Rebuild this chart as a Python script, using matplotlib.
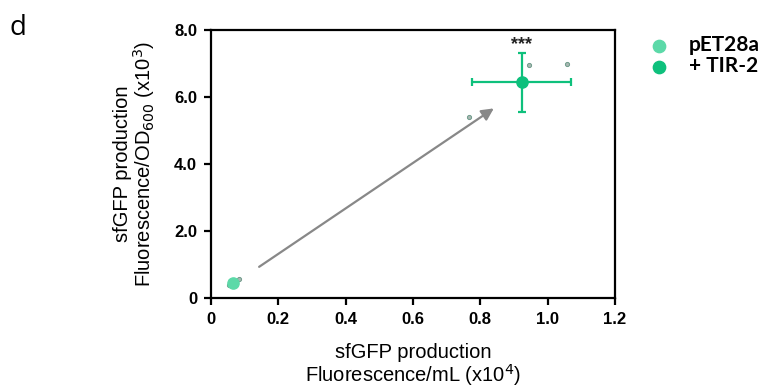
import matplotlib.pyplot as plt

# group means and SD (x: Fluorescence/mL x10^4, y: Fluorescence/OD600 x10^3)
groups = ['pET28a', '+ TIR-2']
colors = ['#5cd9a8', '#0ec07c']
mean_x = [0.064, 0.923]
mean_y = [0.44, 6.44]
sd_x = [0.008, 0.147]
sd_y = [0.06, 0.88]

# individual replicates
rep_x = [[0.055, 0.062, 0.084], [0.767, 0.946, 1.057]]
rep_y = [[0.40, 0.45, 0.57], [5.41, 6.95, 6.98]]

xticks = [0, 0.2, 0.4, 0.6, 0.8, 1.0, 1.2]
xticklabels = ['0', '0.2', '0.4', '0.6', '0.8', '1.0', '1.2']
yticks = [0, 2, 4, 6, 8]
yticklabels = ['0', '2.0', '4.0', '6.0', '8.0']

fig = plt.figure(figsize=(7.68, 3.87), dpi=100)
ax = fig.add_axes([0.2747, 0.2300, 0.5261, 0.6925])

# arrow from control to TIR-2
ax.annotate('', xy=(0.84, 5.66), xytext=(0.143, 0.93),
            arrowprops=dict(arrowstyle='-|>', color='#888888', lw=1.6,
                            mutation_scale=18, shrinkA=0, shrinkB=0))

for i in range(len(groups)):
    ax.errorbar(mean_x[i], mean_y[i], xerr=sd_x[i], yerr=sd_y[i], fmt='none',
                ecolor=colors[i], elinewidth=1.6, capsize=3, capthick=1.6, zorder=3)
    ax.scatter(rep_x[i], rep_y[i], s=9, facecolor='#a9b7b2', edgecolor='#6f9c8b',
               linewidth=0.7, zorder=4)
    ax.scatter(mean_x[i], mean_y[i], s=65, color=colors[i], zorder=5, label=groups[i])

ax.text(mean_x[1], 7.3, '***', ha='center', va='bottom', fontsize=13, fontweight='bold',
        color='#222222', family='Liberation Sans')

ax.set_xlim(0, 1.2)
ax.set_ylim(0, 8)
ax.set_xticks(xticks)
ax.set_xticklabels(xticklabels)
ax.set_yticks(yticks)
ax.set_yticklabels(yticklabels)
for lab in ax.get_xticklabels() + ax.get_yticklabels():
    lab.set_fontweight('bold')
    lab.set_family('Liberation Sans')
    lab.set_fontsize(12)
for s in ax.spines.values():
    s.set_linewidth(1.6)
ax.tick_params(width=1.6, length=5, pad=5)

ax.set_xlabel('sfGFP production\nFluorescence/mL (x10$^4$)', fontsize=14.5,
              family='Liberation Sans', labelpad=11.5, linespacing=1.0)
ax.set_ylabel('sfGFP production\nFluorescence/OD$_{600}$ (x10$^3$)', fontsize=14.5,
              family='Liberation Sans', labelpad=12, linespacing=1.0)

leg = ax.legend(loc='upper left', bbox_to_anchor=(1.01, 1.05), frameon=False,
                prop={'family': 'Lato', 'weight': 'bold', 'size': 15},
                handletextpad=0.45, labelspacing=0.05, markerscale=1.1)

fig.text(0.013, 0.91, 'd', fontsize=20, family='Open Sans')

plt.savefig('out.png', dpi=100)
